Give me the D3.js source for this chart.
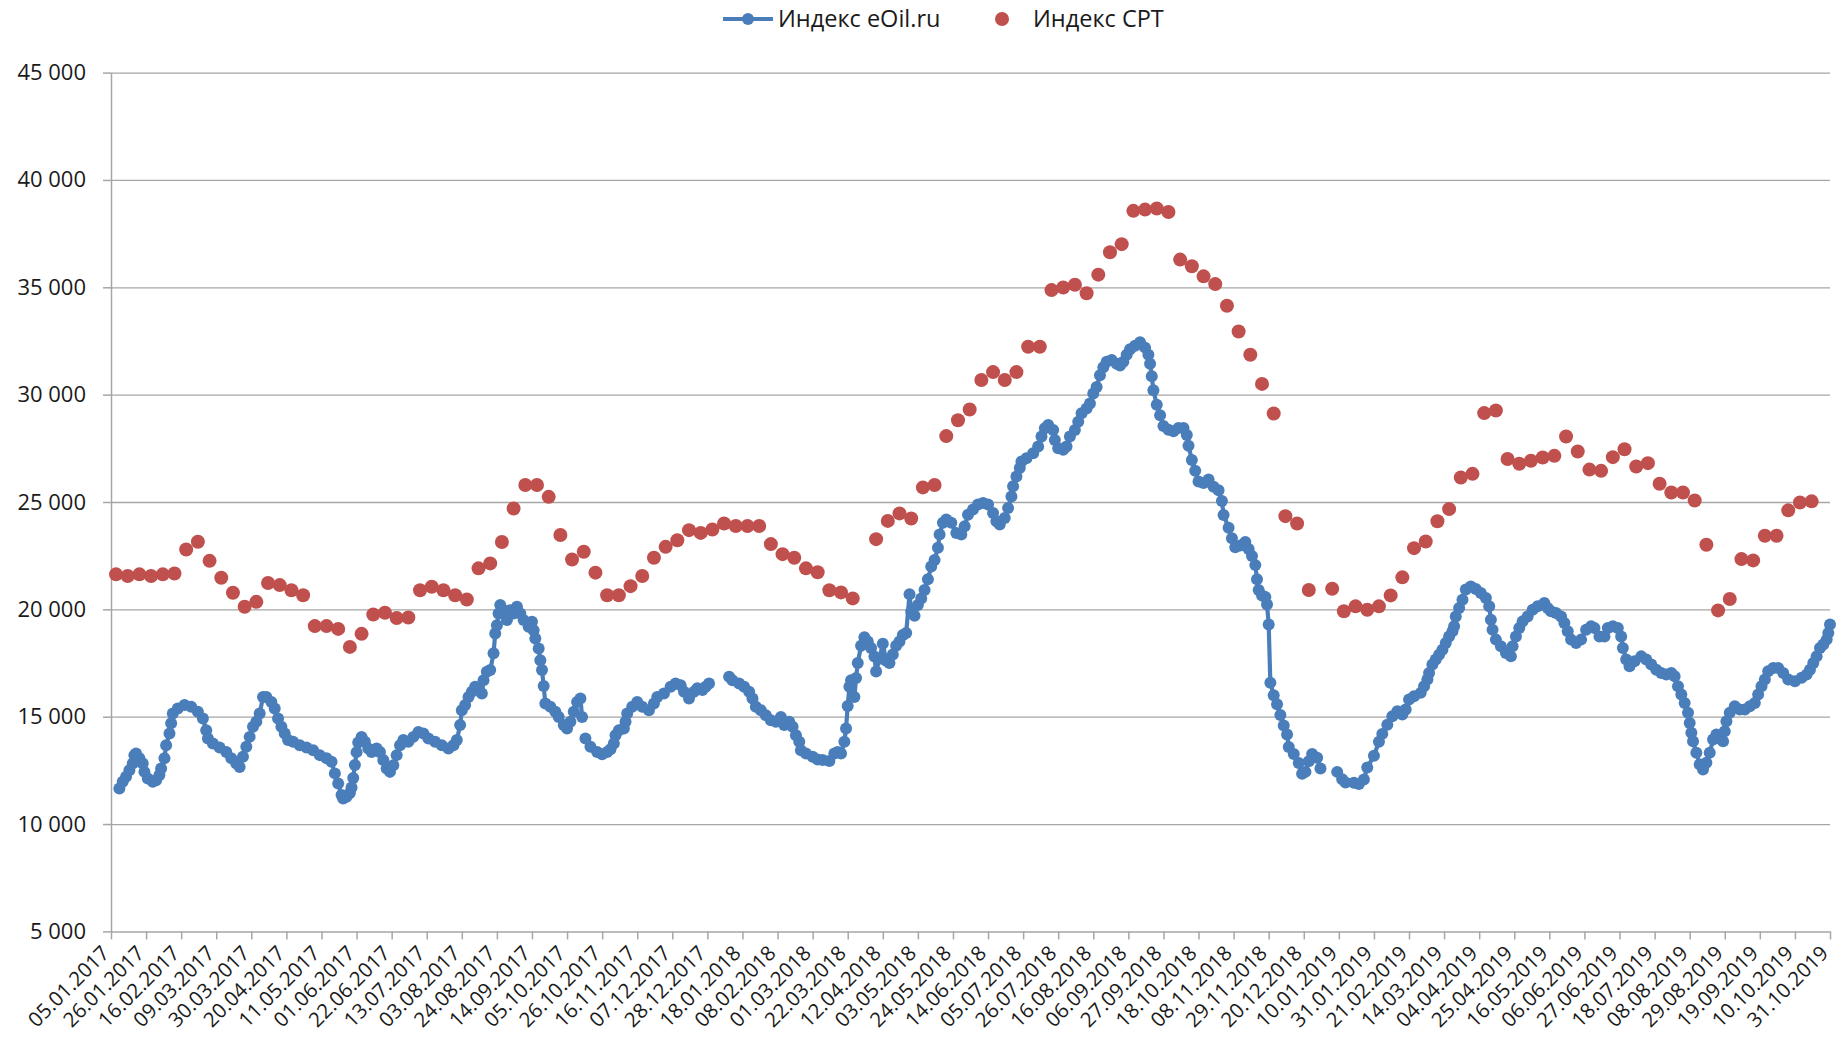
<!DOCTYPE html>
<html lang="ru">
<head>
<meta charset="utf-8">
<title>Индекс eOil.ru и Индекс CPT</title>
<script src="https://cdn.jsdelivr.net/npm/d3@7/dist/d3.min.js"></script>
<style>
  body { margin: 0; background: #fff; }
  svg text { font-family: "Open Sans", sans-serif; fill: #1a1a1a; }
</style>
</head>
<body>
<script>
// первая дата оси; все смещения ниже — в днях от неё
var startDate = new Date(2017, 0, 5);
var axisDays = 1029;          // до 31.10.2019
var tickStepDays = 21;        // подпись каждые 3 недели
var seriesNames = ["Индекс eOil.ru", "Индекс CPT"];
var yTicks = [5000, 10000, 15000, 20000, 25000, 30000, 35000, 40000, 45000];

// Индекс eOil.ru: [день, значение]; null — разрыв в данных
var eoil = [
  [5,11660],[7,11970],[9,12200],[11,12510],[13,12820],[14,13210],[15,13290],[17,13060],[19,12820],[20,12430],
  [22,12120],[25,11970],[27,12040],[29,12280],[30,12590],[32,13060],[33,13670],[35,14220],[36,14690],[37,15150],
  [40,15380],[44,15540],[48,15460],[52,15230],[55,14920],[57,14370],[58,13990],[61,13750],[65,13570],[69,13360],
  [72,13060],[75,12820],[77,12660],[79,13130],[81,13600],[83,14060],[85,14530],[87,14760],[89,15150],[91,15920],
  [93,15920],[96,15690],[98,15380],[100,14920],[102,14530],[104,14220],[106,13910],[109,13830],[113,13670],[117,13570],
  [121,13440],[125,13210],[129,13060],[132,12900],[134,12360],[136,11890],[138,11350],[139,11190],[141,11270],[143,11450],
  [144,11700],[145,12150],[146,12750],[147,13350],[148,13800],[150,14060],[152,13830],[154,13520],[156,13360],[159,13520],
  [161,13360],[163,12980],[165,12590],[167,12430],[169,12740],[171,13210],[173,13670],[175,13910],[178,13830],[181,14060],
  [184,14290],[187,14220],[190,13990],[194,13830],[198,13670],[202,13520],[205,13670],[207,13910],[209,14610],[210,15300],
  [212,15540],[214,15920],[216,16160],[218,16390],[220,16320],[222,16080],[223,16700],[225,17090],[227,17170],[229,17950],
  [230,18880],[231,19260],[232,19810],[233,20200],[235,19960],[237,19500],[239,19960],[241,19810],[243,20120],[245,19810],
  [247,19500],[250,19190],[252,19420],[253,19030],[254,18640],[256,18180],[257,17630],[258,17170],[259,16430],[260,15620],
  [263,15460],[266,15230],[268,14990],[271,14610],[273,14450],[275,14760],[277,15230],[279,15690],[281,15850],[282,14990],
  [283,null],
  [284,13990],[287,13600],[291,13360],[294,13250],[297,13360],[299,13480],[301,13750],[302,14140],[304,14370],[307,14450],
  [308,14760],[309,15150],[312,15460],[315,15690],[318,15460],[322,15300],[325,15620],[327,15920],[331,16080],[335,16390],
  [338,16550],[341,16470],[343,16160],[346,15850],[349,16160],[351,16320],[354,16240],[356,16390],[358,16550],
  [364,null],
  [370,16860],[372,16700],[376,16550],[379,16390],[382,16160],[384,15850],[386,15460],[389,15300],[392,15070],[395,14840],
  [398,14760],[401,14990],[403,14610],[406,14760],[408,14530],[410,14140],[412,13830],[413,13440],[416,13290],[420,13130],
  [423,13010],[426,12980],[430,12940],[433,13290],[435,13360],[437,13290],[439,13830],[440,14450],[441,15500],[442,16390],
  [443,16700],[445,15920],[446,16800],[447,17500],[449,18300],[451,18700],[453,18500],[455,18200],[457,17800],[458,17100],
  [460,17700],[462,18400],[464,17600],[466,17500],[468,17900],[470,18300],[472,18500],[474,18800],[476,18900],[478,20700],
  [479,19900],[481,19700],[483,20200],[485,20500],[487,20900],[489,21400],[491,22000],[493,22300],[495,22870],[496,23490],
  [498,24030],[500,24180],[503,24030],[506,23560],[509,23490],[511,23870],[513,24410],[516,24650],[519,24880],[522,24950],
  [525,24880],[528,24490],[530,24100],[532,23950],[535,24260],[537,24720],[539,25260],[540,25730],[542,26190],[544,26580],
  [545,26890],[548,27040],[552,27270],[555,27580],[557,28050],[559,28430],[561,28590],[564,28350],[565,27890],[567,27500],
  [570,27430],[572,27580],[574,28050],[577,28350],[579,28740],[581,29130],[584,29360],[586,29590],[588,30050],[590,30360],
  [592,30900],[594,31280],[596,31530],[599,31610],[602,31440],[604,31360],[606,31530],[608,31860],[610,32110],[613,32280],
  [616,32440],[619,32190],[621,31860],[622,31440],[623,30860],[624,30200],[626,29530],[628,29040],[630,28540],[633,28370],
  [636,28290],[639,28450],[642,28450],[644,28120],[645,27620],[647,26960],[649,26460],[651,25960],[654,25880],[657,26050],
  [660,25710],[663,25550],[665,25050],[666,24390],[669,23800],[671,23310],[673,22890],[676,22970],[679,23140],[681,22810],
  [683,22480],[685,22060],[686,21400],[687,20900],[689,20650],[691,20570],[692,20230],[693,19290],[694,16580],[696,16000],
  [698,15580],[700,15080],[702,14590],[704,14170],[705,13590],[708,13260],[711,12840],[713,12340],[715,12430],[717,12920],
  [719,13260],[722,13090],[724,12590],
  [729,null],
  [734,12430],[737,12090],[739,11930],[744,11920],[747,11870],[750,12080],[752,12630],[756,13180],[759,13830],[761,14200],
  [764,14630],[767,15020],[770,15250],[773,15100],[775,15330],[777,15800],[780,15950],[784,16110],[786,16420],[788,16730],
  [789,17040],[791,17430],[793,17660],[795,17890],[797,18120],[799,18430],[801,18740],[803,18980],[804,19210],[805,19670],
  [807,20060],[809,20450],[811,20920],[814,21070],[817,20950],[820,20760],[823,20530],[825,20140],[826,19520],[827,19050],
  [829,18590],[832,18280],[835,17970],[838,17810],[839,18280],[841,18740],[843,19130],[845,19440],[848,19670],[851,19980],
  [854,20140],[858,20300],[860,20060],[862,19910],[865,19830],[868,19670],[870,19360],[872,18980],[874,18590],[877,18430],
  [880,18590],[883,19050],[886,19210],[888,19130],[891,18740],[894,18740],[896,19130],[899,19210],[902,19130],[904,18740],
  [905,18200],[907,17660],[909,17350],[912,17580],[916,17810],[919,17660],[922,17430],[925,17190],[928,17040],[931,16960],
  [934,17040],[936,16880],[938,16420],[940,16030],[942,15640],[944,15180],[945,14710],[946,14250],[947,13860],[949,13320],
  [951,12770],[953,12540],[955,12850],[957,13320],[959,13940],[961,14170],[964,13940],[965,13860],[966,14320],[967,14790],
  [969,15180],[972,15490],[975,15330],[978,15330],[981,15490],[984,15640],[986,16030],[988,16420],[990,16730],[992,17120],
  [995,17270],[998,17270],[1001,17040],[1004,16730],[1008,16650],[1012,16810],[1015,16960],[1017,17190],[1019,17500],[1021,17810],
  [1023,18200],[1025,18360],[1027,18590],[1028,18900],[1029,19290]
];

// Индекс CPT: еженедельно с 08.01.2017; null — неделя без значения
var cptFirstDay = 3;
var cpt = [
  21630,21550,21630,21550,21630,21670,22790,23150,22260,21470,
  20770,20120,20350,21230,21130,20890,20660,19220,19220,19090,
  18250,18860,19760,19840,19600,19620,20890,21050,20890,20660,
  20460,21910,22140,23140,24700,25790,25790,25240,23460,22320,
  22680,21710,20660,20660,21080,21550,22400,22910,23220,23690,
  23560,23720,24000,23880,23880,23880,23040,22570,22400,21910,
  21730,20890,20790,20510,null,23270,24120,24470,24230,25680,
  25790,28070,28810,29310,30680,31050,30680,31050,32230,32230,
  34870,34990,35120,34720,35590,36630,37010,38560,38620,38670,
  38510,36290,35980,35510,35150,34140,32940,31860,30500,29120,
  24340,24000,20900,null,20960,19910,20140,19980,20140,20650,
  21490,22850,23160,24100,24670,26140,26310,29140,29260,27000,
  26780,26920,27070,27150,28050,27350,26510,26450,27090,27460,
  26650,26810,25850,25440,25440,25070,23010,19950,20480,22340,
  22280,23430,23430,24610,24980,25030
];

var W = 1837, H = 1040;
var plotLeft = 111, plotRight = 1830, plotTop = 72.6, plotBottom = 931.4;
var blue = "#4a7ebb", red = "#c0504d", gridColor = "#a6a6a6";

var svg = d3.select("body").append("svg")
  .attr("width", W).attr("height", H);

var dayToDate = function(d) { return d3.timeDay.offset(startDate, d); };

var x = d3.scaleTime()
  .domain([startDate, dayToDate(axisDays)])
  .range([plotLeft, plotRight]);
var y = d3.scaleLinear().domain([5000, 45000]).range([plotBottom, plotTop]);

var ru = d3.formatLocale({decimal: ",", thousands: "\u00a0", grouping: [3], currency: ["", ""]});
var fmtY = ru.format(",");

// сетка
svg.append("g")
  .attr("transform", "translate(" + plotLeft + ",0)")
  .call(d3.axisLeft(y).tickValues(yTicks.slice(1)).tickSize(-(plotRight - plotLeft)).tickFormat(""))
  .call(function(g) {
    g.select(".domain").remove();
    g.selectAll("line").attr("stroke", gridColor).attr("stroke-width", 1.3);
  });

// ось Y
svg.append("g")
  .attr("transform", "translate(" + plotLeft + ",0)")
  .call(d3.axisLeft(y).tickValues(yTicks).tickSize(8).tickSizeOuter(0).tickPadding(17).tickFormat(fmtY))
  .call(function(g) {
    g.select(".domain").attr("stroke", gridColor).attr("stroke-width", 1.5);
    g.selectAll("line").attr("stroke", gridColor).attr("stroke-width", 1.5);
    g.selectAll("text").style("font-size", "22px").attr("fill", "#1a1a1a");
  });

// ось X
var tickDates = d3.range(0, axisDays + 1, tickStepDays).map(dayToDate);
svg.append("g")
  .attr("transform", "translate(0," + plotBottom + ")")
  .call(d3.axisBottom(x).tickValues(tickDates).tickSize(8).tickSizeOuter(0)
    .tickFormat(d3.timeFormat("%d.%m.%Y")))
  .call(function(g) {
    g.select(".domain").attr("stroke", gridColor).attr("stroke-width", 1.5);
    g.selectAll("line").attr("stroke", gridColor).attr("stroke-width", 1.5);
    g.selectAll("text")
      .style("font-size", "20.5px").attr("fill", "#1a1a1a")
      .attr("x", 0).attr("y", 0).attr("dy", "0.35em")
      .attr("text-anchor", "end")
      .attr("transform", "translate(-6,18) rotate(-45)");
  });

// Индекс eOil.ru
var eoilPts = eoil.map(function(p) { return {date: dayToDate(p[0]), v: p[1]}; });
var line = d3.line()
  .defined(function(d) { return d.v != null; })
  .x(function(d) { return x(d.date); })
  .y(function(d) { return y(d.v); });

svg.append("path")
  .datum(eoilPts)
  .attr("fill", "none").attr("stroke", blue).attr("stroke-width", 4.2)
  .attr("stroke-linejoin", "round")
  .attr("d", line);

svg.append("g").selectAll("circle")
  .data(eoilPts.filter(function(d) { return d.v != null; }))
  .enter().append("circle")
  .attr("cx", function(d) { return x(d.date); })
  .attr("cy", function(d) { return y(d.v); })
  .attr("r", 6)
  .attr("fill", blue);

// Индекс CPT
var cptPts = cpt.map(function(v, i) { return {date: dayToDate(cptFirstDay + 7 * i), v: v}; })
  .filter(function(d) { return d.v != null; });

svg.append("g").selectAll("circle")
  .data(cptPts)
  .enter().append("circle")
  .attr("cx", function(d) { return x(d.date); })
  .attr("cy", function(d) { return y(d.v); })
  .attr("r", 7)
  .attr("fill", red);

// легенда
var lg = svg.append("g").attr("transform", "translate(0,19)");
lg.append("line").attr("x1", 723).attr("x2", 773).attr("y1", 0).attr("y2", 0)
  .attr("stroke", blue).attr("stroke-width", 4.2);
lg.append("circle").attr("cx", 748).attr("cy", 0).attr("r", 6).attr("fill", blue);
lg.append("text").attr("x", 778).attr("y", 0).attr("dy", "0.35em")
  .style("font-size", "23.5px").text(seriesNames[0]);
lg.append("circle").attr("cx", 1002).attr("cy", 0).attr("r", 7).attr("fill", red);
lg.append("text").attr("x", 1033).attr("y", 0).attr("dy", "0.35em")
  .style("font-size", "23.5px").text(seriesNames[1]);
</script>
</body>
</html>
